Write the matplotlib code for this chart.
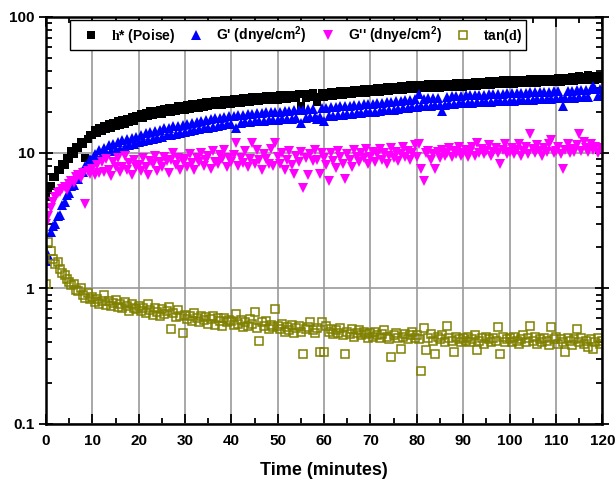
import numpy as np
import matplotlib
matplotlib.use('Agg')
import matplotlib.pyplot as plt
from matplotlib.ticker import LogLocator, FixedLocator, NullFormatter, MultipleLocator

plt.rcParams['font.family'] = 'Liberation Sans'
plt.rcParams['font.weight'] = 'bold'
plt.rcParams['mathtext.fontset'] = 'custom'
plt.rcParams['mathtext.rm'] = 'Liberation Serif'
plt.rcParams['mathtext.bf'] = 'Liberation Sans:bold'

# sampling every half minute, 0 - 120 min
t_step = 0.5
time = np.arange(0, 120 + t_step / 2, t_step)

# complex viscosity h* (Poise)
eta = [
    4.7, 5.5, 5.7, 6.6, 6.6, 7.5, 7.4, 8.3, 8.1, 9.2, 9.0, 10.2, 9.8, 11.1, 10.8, 12.0, 11.6, 9.2, 12.6, 13.5,
    13.4, 14.6, 13.9, 15.3, 14.4, 15.8, 14.9, 16.2, 15.1, 16.5, 15.6, 17.0, 16.0, 17.3, 16.4, 17.8, 16.7, 18.2, 17.2, 18.5,
    17.9, 19.3, 18.1, 19.7, 18.6, 20.2, 18.9, 20.4, 19.2, 20.8, 19.4, 20.9, 19.8, 21.3, 20.0, 21.5, 20.3, 21.9, 20.5, 22.1,
    20.8, 22.4, 21.0, 22.7, 21.3, 23.0, 21.5, 23.2, 21.8, 23.5, 22.0, 23.6, 22.3, 23.9, 22.5, 24.2, 22.6, 24.4, 22.9, 24.5,
    23.0, 24.7, 23.1, 25.0, 23.4, 25.2, 23.6, 25.4, 23.8, 25.6, 24.0, 25.7, 24.2, 25.9, 24.3, 26.1, 24.5, 26.2, 24.6, 26.3,
    24.6, 26.4, 24.8, 26.5, 24.9, 26.7, 25.1, 26.8, 25.2, 26.9, 22.2, 27.0, 25.4, 27.2, 25.6, 27.3, 25.7, 23.5, 25.8, 27.5,
    25.9, 27.7, 26.1, 27.9, 26.3, 28.1, 26.5, 28.3, 26.7, 28.5, 26.9, 28.7, 27.1, 28.9, 27.3, 29.1, 27.5, 29.3, 27.7, 29.5,
    27.8, 29.7, 28.0, 29.9, 28.2, 30.1, 28.4, 30.3, 28.6, 30.5, 28.8, 30.7, 29.0, 30.9, 29.2, 31.1, 29.4, 31.3, 29.6, 31.5,
    29.7, 31.6, 29.8, 31.7, 29.9, 31.8, 30.0, 31.9, 30.1, 32.0, 30.2, 32.1, 30.3, 32.2, 30.4, 32.3, 30.5, 32.4, 30.6, 32.5,
    30.7, 32.6, 30.8, 32.8, 31.0, 33.0, 31.2, 33.2, 31.4, 33.4, 31.5, 33.6, 31.6, 33.8, 31.8, 34.0, 32.0, 34.1, 32.1, 34.2,
    32.2, 34.3, 32.3, 34.4, 32.4, 34.5, 32.5, 34.6, 32.6, 34.7, 32.7, 34.8, 32.8, 34.9, 32.9, 35.0, 33.0, 35.1, 33.1, 35.2,
    33.2, 35.4, 33.3, 35.6, 33.5, 35.8, 33.7, 36.0, 33.9, 36.2, 37.0, 34.1, 36.4, 34.3, 37.4, 34.5, 36.7, 34.6, 36.9, 34.8,
    35.5,
]

# storage modulus G'
g_store = [
    1.6, 1.75, 2.6, 2.9, 3.0, 3.4, 3.5, 4.1, 4.3, 4.9, 5.0, 5.7, 5.8, 6.4, 6.4, 7.2, 7.2, 8.0, 8.1, 9.0,
    8.9, 9.8, 9.2, 10.4, 9.6, 10.8, 9.9, 11.3, 10.2, 11.6, 10.5, 12.0, 10.7, 12.3, 11.0, 12.6, 11.3, 12.9, 11.6, 13.1,
    12.0, 13.6, 12.2, 13.9, 12.5, 14.3, 12.7, 14.5, 12.9, 14.8, 13.1, 15.1, 13.4, 15.3, 13.6, 15.6, 13.8, 15.8, 14.0, 16.1,
    14.2, 16.2, 14.4, 16.6, 14.7, 16.9, 14.9, 17.1, 15.1, 17.4, 15.3, 17.7, 15.5, 17.9, 15.8, 18.1, 16.0, 18.3, 16.2, 18.6,
    16.4, 18.7, 15.3, 18.9, 16.6, 19.1, 16.8, 19.2, 16.9, 19.4, 17.0, 19.5, 17.1, 19.6, 17.2, 19.8, 17.3, 19.9, 17.4, 20.0,
    17.5, 20.1, 17.6, 20.3, 17.7, 20.4, 17.8, 20.5, 17.9, 20.7, 16.6, 20.8, 18.1, 20.9, 18.2, 21.1, 18.3, 17.7, 18.4, 21.3,
    17.0, 21.4, 18.6, 21.6, 18.7, 21.8, 18.9, 21.9, 19.0, 22.1, 19.2, 22.2, 19.3, 22.4, 19.5, 22.5, 19.6, 22.7, 19.8, 22.8,
    19.9, 23.0, 20.1, 23.2, 20.3, 23.4, 20.5, 23.6, 20.6, 23.8, 20.8, 24.0, 21.0, 24.2, 21.2, 24.4, 21.4, 24.6, 21.6, 24.8,
    21.7, 27.0, 21.9, 25.0, 22.0, 25.2, 22.2, 25.3, 22.3, 25.5, 22.5, 20.3, 22.6, 25.8, 22.8, 26.0, 22.9, 26.1, 23.1, 26.3,
    23.2, 26.4, 23.3, 26.5, 23.4, 26.6, 23.5, 26.7, 23.6, 26.8, 23.7, 26.9, 23.8, 27.0, 23.9, 27.1, 24.0, 27.2, 24.1, 27.3,
    24.1, 27.4, 24.2, 27.5, 24.3, 27.6, 24.4, 27.7, 24.5, 27.8, 24.6, 27.9, 24.7, 28.0, 24.8, 28.1, 24.9, 28.2, 25.0, 28.3,
    25.1, 28.4, 25.2, 22.0, 25.3, 28.6, 25.4, 28.7, 25.5, 28.8, 25.6, 29.0, 25.7, 29.1, 25.8, 29.3, 31.0, 29.4, 26.0, 29.5,
    26.5,
]

# loss modulus G''
g_loss = [
    3.0, 3.4, 3.9, 4.3, 4.7, 5.0, 5.1, 5.4, 5.6, 5.3, 5.9, 6.2, 6.0, 6.6, 6.9, 6.5, 7.1, 4.2, 7.3, 7.0,
    7.6, 6.8, 8.1, 7.1, 8.5, 7.2, 9.0, 7.5, 6.7, 8.5, 7.9, 9.2, 7.2, 7.9, 9.5, 7.5, 8.4, 6.8, 8.8, 7.9,
    8.1, 7.3, 9.1, 7.9, 6.9, 8.7, 8.3, 9.5, 7.3, 8.5, 7.9, 9.3, 8.7, 7.1, 8.9, 9.9, 8.1, 9.1, 7.5, 8.7,
    9.0, 7.8, 9.8, 8.4, 7.4, 9.2, 8.6, 10.0, 8.0, 8.8, 9.4, 7.6, 10.2, 8.6, 8.2, 9.6, 9.0, 10.4, 7.8, 9.2,
    8.6, 9.6, 11.8, 8.0, 9.2, 8.4, 10.2, 7.8, 9.0, 11.7, 8.2, 10.4, 8.8, 7.4, 9.8, 9.0, 8.2, 10.6, 8.0, 11.8,
    9.3, 8.3, 9.9, 7.5, 8.9, 10.3, 8.1, 7.0, 9.5, 8.5, 10.1, 5.5, 9.1, 6.8, 9.7, 8.7, 10.5, 8.9, 7.0, 9.9,
    9.1, 8.1, 6.2, 9.9, 8.7, 7.7, 10.3, 9.3, 8.3, 6.4, 9.7, 8.9, 7.9, 10.5, 9.3, 8.5, 9.9, 9.1, 10.7, 8.3,
    9.3, 10.1, 8.5, 9.7, 10.7, 8.9, 9.9, 8.3, 9.5, 10.9, 9.1, 10.1, 8.7, 9.7, 11.1, 9.3, 10.3, 8.9, 9.9, 11.3,
    9.3, 11.5, 7.6, 6.2, 9.9, 10.3, 8.9, 9.7, 7.6, 10.1, 9.1, 10.5, 9.5, 9.9, 10.9, 9.3, 10.3, 9.7, 11.1, 9.5,
    9.9, 10.5, 9.3, 10.1, 11.1, 9.5, 11.7, 9.9, 10.7, 9.7, 10.3, 11.3, 9.5, 10.1, 10.9, 9.9, 8.3, 10.5, 11.5, 9.7,
    10.1, 10.9, 9.7, 10.5, 11.5, 9.5, 10.3, 11.1, 9.7, 13.8, 10.7, 9.9, 11.3, 10.3, 9.5, 10.9, 10.1, 11.5, 12.3, 9.9,
    10.3, 11.1, 9.7, 7.6, 10.5, 11.5, 9.9, 10.7, 10.1, 11.3, 13.8, 10.3, 11.9, 10.9, 10.1, 11.5, 10.5, 11.1, 9.9, 10.9,
    10.4,
]

# loss tangent tan(d)
tan_d = [
    1.08, 2.2, 1.9, 1.65, 1.5, 1.55, 1.38, 1.3, 1.25, 1.18, 1.12, 1.05, 1.08, 0.98, 0.95, 1.0, 0.9, 0.85, 0.92, 0.84,
    0.86, 0.79, 0.83, 0.77, 0.81, 0.89, 0.75, 0.80, 0.74, 0.78, 0.82, 0.73, 0.77, 0.71, 0.79, 0.74, 0.68, 0.76, 0.72, 0.70,
    0.74, 0.68, 0.72, 0.66, 0.77, 0.69, 0.64, 0.71, 0.67, 0.62, 0.70, 0.65, 0.68, 0.73, 0.50, 0.66, 0.61, 0.69, 0.63, 0.47,
    0.64, 0.59, 0.62, 0.57, 0.66, 0.60, 0.56, 0.63, 0.58, 0.61, 0.55, 0.59, 0.62, 0.54, 0.60, 0.57, 0.53, 0.60, 0.56, 0.58,
    0.57, 0.54, 0.65, 0.55, 0.58, 0.52, 0.56, 0.53, 0.59, 0.55, 0.67, 0.51, 0.41, 0.56, 0.53, 0.57, 0.50, 0.54, 0.52, 0.70,
    0.53, 0.50, 0.55, 0.48, 0.52, 0.49, 0.54, 0.47, 0.51, 0.53, 0.48, 0.33, 0.50, 0.52, 0.56, 0.49, 0.47, 0.51, 0.34, 0.56,
    0.34, 0.53, 0.48, 0.50, 0.46, 0.49, 0.47, 0.51, 0.45, 0.33, 0.48, 0.46, 0.50, 0.44, 0.47, 0.49, 0.45, 0.48, 0.46, 0.43,
    0.47, 0.44, 0.48, 0.45, 0.43, 0.46, 0.49, 0.44, 0.42, 0.31, 0.45, 0.47, 0.43, 0.36, 0.44, 0.46, 0.42, 0.45, 0.48, 0.43,
    0.45, 0.42, 0.245, 0.51, 0.35, 0.43, 0.46, 0.41, 0.33, 0.44, 0.42, 0.45, 0.40, 0.53, 0.43, 0.41, 0.34, 0.44, 0.42, 0.40,
    0.43, 0.41, 0.44, 0.40, 0.42, 0.45, 0.35, 0.41, 0.43, 0.39, 0.44, 0.42, 0.40, 0.43, 0.41, 0.52, 0.33, 0.44, 0.40, 0.42,
    0.43, 0.40, 0.44, 0.41, 0.39, 0.42, 0.45, 0.40, 0.43, 0.53, 0.41, 0.44, 0.39, 0.42, 0.40, 0.43, 0.41, 0.38, 0.52, 0.42,
    0.44, 0.39, 0.42, 0.40, 0.34, 0.43, 0.41, 0.38, 0.42, 0.50, 0.40, 0.43, 0.39, 0.41, 0.37, 0.42, 0.36, 0.40, 0.43, 0.39,
    0.41,
]

labels = [r'$\mathrm{h}$* (Poise)', r"G' (dnye/cm$^{\mathbf{2}}$)",
          r"G'' (dnye/cm$^{\mathbf{2}}$)", r'tan($\mathrm{d}$)']

fig = plt.figure(figsize=(6.15, 4.87), dpi=100)
ax = fig.add_axes([0.0748, 0.1294, 0.9045, 0.8357])

ax.plot(time, eta, 's', color='black', ms=6.0, mew=0, label=labels[0])
ax.plot(time, g_store, '^', color='#0000ff', ms=7.0, mew=0, label=labels[1])
ax.plot(time, g_loss, 'v', color='#ff00ff', ms=7.0, mew=0, label=labels[2])
ax.plot(time, tan_d, 's', color='#808000', mfc='none', ms=6.0, mew=1.1, label=labels[3])

ax.set_yscale('log')
ax.set_ylim(0.1, 100)
ax.set_xlim(0, 120)
ax.xaxis.set_major_locator(MultipleLocator(10))
ax.xaxis.set_minor_locator(MultipleLocator(5))
ax.yaxis.set_major_locator(FixedLocator([0.1, 1, 10, 100]))
ax.yaxis.set_minor_locator(LogLocator(base=10, subs=np.arange(2, 10)))
ax.yaxis.set_minor_formatter(NullFormatter())
ax.set_yticklabels(['0.1', '1', '10', '100'])

ax.set_axisbelow(True)
ax.grid(True, which='major', color='#999999', lw=1.2)

ax.tick_params(which='both', top=True, right=True, direction='in',
               labelsize=11, width=1.3)
ax.tick_params(axis='y', which='major', direction='inout', length=10, pad=3)
ax.tick_params(axis='x', which='major', length=7, pad=7)
ax.tick_params(which='minor', length=4)
for s in ax.spines.values():
    s.set_linewidth(1.8)

ax.set_xlabel('Time (minutes)', fontsize=13, fontweight='bold', labelpad=10)

leg = ax.legend(loc='upper left', bbox_to_anchor=(0.043, 0.992), ncol=4,
                fontsize=10, frameon=True, fancybox=False, numpoints=1,
                handlelength=2.4, handletextpad=0.25, columnspacing=0.3,
                borderpad=0.3, borderaxespad=0)
leg.get_frame().set_edgecolor('black')
leg.get_frame().set_linewidth(1.0)
leg.get_frame().set_alpha(1)

fig.savefig('out.png', dpi=100)
